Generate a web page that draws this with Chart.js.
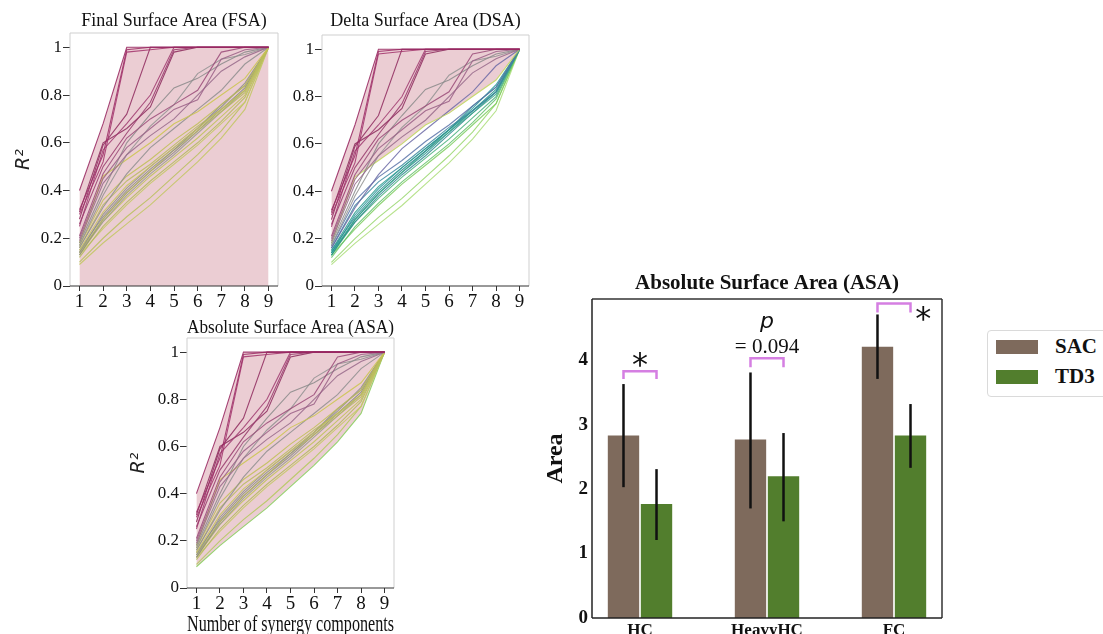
<!DOCTYPE html>
<html>
<head>
<meta charset="utf-8">
<script src="https://cdn.jsdelivr.net/npm/chart.js@4.4.1/dist/chart.umd.min.js"></script>
<style>
  body { margin: 0; width: 1103px; height: 634px; overflow: hidden; position: relative; background: #fff; }
  .pane { position: absolute; }
  #legend { position: absolute; left: 987px; top: 330px; width: 140px; height: 67px; border: 1px solid #dadada; border-radius: 4px; box-sizing: border-box; font-family: "Liberation Serif", serif; font-weight: bold; font-size: 21px; color: #111; }
  #legend .sw { position: absolute; left: 8px; width: 42px; height: 14px; }
  #legend .lb { position: absolute; left: 67px; line-height: 21px; }
</style>
</head>
<body>
<div class="pane" style="left:0;top:0"><canvas id="fsa" width="290" height="320"></canvas></div>
<div class="pane" style="left:260px;top:0"><canvas id="dsa" width="280" height="320"></canvas></div>
<div class="pane" style="left:120px;top:300px"><canvas id="asa" width="290" height="344"></canvas></div>
<div class="pane" style="left:530px;top:260px"><canvas id="bars" width="430" height="390"></canvas></div>
<div id="legend"></div>

<script>
/* ===================== DATA ===================== */
const components = [1, 2, 3, 4, 5, 6, 7, 8, 9];

// R^2 per number of synergy components, one row per run
const r2Series = [
  [0.40, 0.68, 1.00, 1.00, 1.00, 1.00, 1.00, 1.00, 1.00],
  [0.32, 0.55, 0.99, 1.00, 1.00, 1.00, 1.00, 1.00, 1.00],
  [0.30, 0.52, 0.98, 0.99, 1.00, 1.00, 1.00, 1.00, 1.00],
  [0.28, 0.59, 0.72, 1.00, 1.00, 1.00, 1.00, 1.00, 1.00],
  [0.25, 0.57, 0.68, 0.80, 1.00, 1.00, 1.00, 1.00, 1.00],
  [0.26, 0.50, 0.64, 0.77, 0.99, 1.00, 1.00, 1.00, 1.00],
  [0.31, 0.60, 0.66, 0.75, 0.98, 1.00, 1.00, 1.00, 1.00],
  [0.21, 0.47, 0.62, 0.70, 0.76, 0.82, 0.98, 1.00, 1.00],
  [0.20, 0.45, 0.58, 0.66, 0.74, 0.78, 0.95, 0.99, 1.00],
  [0.19, 0.43, 0.55, 0.63, 0.70, 0.80, 0.90, 0.96, 1.00],
  [0.18, 0.40, 0.60, 0.72, 0.83, 0.87, 0.93, 0.98, 1.00],
  [0.17, 0.38, 0.55, 0.67, 0.76, 0.89, 0.95, 0.97, 1.00],
  [0.18, 0.46, 0.53, 0.60, 0.68, 0.73, 0.80, 0.87, 1.00],
  [0.16, 0.33, 0.47, 0.58, 0.66, 0.74, 0.82, 0.93, 1.00],
  [0.17, 0.36, 0.46, 0.53, 0.61, 0.68, 0.76, 0.84, 1.00],
  [0.16, 0.34, 0.44, 0.51, 0.59, 0.67, 0.74, 0.82, 1.00],
  [0.15, 0.31, 0.42, 0.50, 0.58, 0.66, 0.74, 0.82, 1.00],
  [0.15, 0.29, 0.40, 0.49, 0.57, 0.66, 0.76, 0.84, 1.00],
  [0.14, 0.30, 0.41, 0.50, 0.58, 0.66, 0.75, 0.85, 1.00],
  [0.14, 0.28, 0.39, 0.48, 0.57, 0.65, 0.73, 0.81, 1.00],
  [0.13, 0.28, 0.39, 0.48, 0.56, 0.65, 0.74, 0.83, 1.00],
  [0.14, 0.27, 0.38, 0.47, 0.55, 0.64, 0.73, 0.82, 1.00],
  [0.13, 0.27, 0.37, 0.46, 0.54, 0.62, 0.71, 0.80, 1.00],
  [0.12, 0.25, 0.35, 0.44, 0.52, 0.60, 0.69, 0.79, 1.00],
  [0.13, 0.24, 0.34, 0.43, 0.51, 0.59, 0.68, 0.77, 1.00],
  [0.10, 0.20, 0.29, 0.37, 0.46, 0.55, 0.65, 0.77, 1.00],
  [0.09, 0.18, 0.26, 0.34, 0.43, 0.52, 0.62, 0.74, 1.00]
];
const dsaBoundaryRow = 12; // lower edge of the shaded band in DSA

const fsaColors = ["#96245f", "#9c2d66", "#a2336b", "#8f2a5e", "#a03a70", "#983a6c", "#8c2a5c", "#9a4a78", "#9a5f86",
  "#96688a", "#8a8a8a", "#929292", "#cbc64e", "#8e8e8e", "#bfc055", "#b8bb5e", "#c7c65c", "#8d9086", "#90918a",
  "#b6ba5a", "#888a84", "#9a9c90", "#c0c35a", "#b3b95d", "#c4c864", "#b9c05b", "#c2c760"];
const dsaColors = ["#96245f", "#9c2d66", "#a2336b", "#8f2a5e", "#a03a70", "#983a6c", "#8c2a5c", "#9a4a78", "#9a5f86",
  "#96688a", "#8a8a8a", "#929292", "#c0d85a", "#6c6aa6", "#5a73a8", "#3d88a0", "#2d9a8e", "#2e8c90", "#24969a",
  "#3aa488", "#20908a", "#318a92", "#47ae7c", "#63c06a", "#7dcc5e", "#97d66c", "#aadd78"];
const asaColors = ["#96245f", "#9c2d66", "#a2336b", "#8f2a5e", "#a03a70", "#983a6c", "#8c2a5c", "#9a4a78", "#9a5f86",
  "#96688a", "#8a8a8a", "#929292", "#cbc64e", "#8e8e8e", "#bfc055", "#b8bb5e", "#c7c65c", "#8d9086", "#90918a",
  "#b6ba5a", "#888a84", "#9a9c90", "#c0c35a", "#b3b95d", "#c4c864", "#b3c95a", "#86cf5a"];

const tasks = ["HC", "HeavyHC", "FC"];
const algos = ["SAC", "TD3"];
const sacArea = [2.83, 2.77, 4.21];
const td3Area = [1.77, 2.20, 2.83];
const sacLow = [2.03, 1.70, 3.71];
const sacHigh = [3.63, 3.81, 4.71];
const td3Low = [1.21, 1.50, 2.33];
const td3High = [2.31, 2.87, 3.32];
const bracketLow = [3.71, 3.89, 4.74];
const bracketHigh = [3.83, 4.03, 4.88];

/* ===================== STYLE ===================== */
const SERIF = "'Liberation Serif', 'Times New Roman', serif";
const SANS = "'DejaVu Sans', sans-serif";
const PINK = "rgba(190, 90, 110, 0.3)";
const algoColors = ["#7e6a5c", "#527e2d"];
Chart.defaults.animation = false;
Chart.defaults.color = "#111";

/* ===================== PLUGINS ===================== */
const framePlugin = {
  id: "frame",
  afterDatasetsDraw(chart, args, o) {
    const { left, right, top, bottom } = chart.chartArea;
    const ctx = chart.ctx;
    const side = (c, x1, y1, x2, y2) => {
      ctx.strokeStyle = c;
      ctx.beginPath(); ctx.moveTo(x1, y1); ctx.lineTo(x2, y2); ctx.stroke();
    };
    ctx.save();
    ctx.lineWidth = o.width || 1;
    side(o.top, left, top, right, top);
    side(o.right, right, top, right, bottom);
    side(o.left, left, top, left, bottom);
    side(o.bottom, left, bottom, right, bottom);
    ctx.restore();
  }
};

const envelope = fn => components.map((c, i) => ({ x: c, y: fn(...r2Series.map(s => s[i])) }));

function lineChart(id, p) {
  const lines = r2Series.map((s, k) => ({
    data: components.map((c, i) => ({ x: c, y: s[i] })),
    borderColor: p.colors[k] + "d9",
    borderWidth: 1.1,
    pointRadius: 0,
    fill: false,
    order: 1
  }));
  const upper = { data: envelope(Math.max), borderWidth: 0, borderColor: "rgba(0,0,0,0)", pointRadius: 0, backgroundColor: PINK, fill: p.fill, order: 5 };
  const datasets = [upper];
  if (p.lower) datasets.push({ data: envelope(Math.min), borderWidth: 0, borderColor: "rgba(0,0,0,0)", pointRadius: 0, fill: false, order: 6 });
  datasets.push(...lines);

  new Chart(document.getElementById(id), {
    type: "line",
    data: { datasets },
    plugins: [framePlugin],
    options: {
      responsive: false,
      devicePixelRatio: 1,
      layout: { padding: { right: p.padRight } },
      plugins: {
        legend: { display: false },
        tooltip: { enabled: false },
        title: { display: true, fullSize: false, text: p.title, color: "#111", font: { family: SERIF, size: 18, weight: "normal", lineHeight: 1 }, padding: p.titlePad },
        frame: { top: "#cfcfcf", right: "#cfcfcf", left: "#cfcfcf", bottom: "#333" }
      },
      scales: {
        x: {
          type: "linear", min: 0.6, max: 9.4,
          afterFit: s => { s.height = p.xH; },
          ticks: { stepSize: 1, includeBounds: false, autoSkip: false, maxRotation: 0, padding: 0, font: { family: SERIF, size: 19 }, color: "#111" },
          grid: { drawOnChartArea: false, drawTicks: true, tickLength: 5, tickColor: "#333" },
          border: { display: false },
          title: p.xTitle ? { display: true, text: p.xTitle, color: "#111", font: { family: SERIF, size: 22.5, lineHeight: 1 }, padding: { bottom: p.xTitlePad } } : { display: false }
        },
        y: {
          min: 0, max: 1.06,
          afterFit: s => { s.width = p.yW; },
          ticks: { stepSize: 0.2, includeBounds: false, padding: 1, font: { family: SERIF, size: 17 }, color: "#111", callback: v => String(+v.toFixed(1)) },
          grid: { drawOnChartArea: false, drawTicks: true, tickLength: 7, tickColor: "#333" },
          border: { display: false },
          title: p.yTitle ? { display: true, text: "R²", color: "#222", font: { family: SANS, size: 19, style: "italic", lineHeight: 1 }, padding: { top: p.yTitlePad } } : { display: false }
        }
      }
    }
  });
}

/* ===================== LINE PANELS ===================== */
lineChart("fsa", { title: "Final Surface Area (FSA)", colors: fsaColors, fill: "origin", padRight: 12, xH: 34, yW: 70, titlePad: { top: 12, bottom: 3 }, yTitle: true, yTitlePad: 15 });
lineChart("dsa", { title: "Delta Surface Area (DSA)", colors: dsaColors, fill: 1 + dsaBoundaryRow, padRight: 11, xH: 34, yW: 62, titlePad: { top: 12, bottom: 5 } });
lineChart("asa", { title: "Absolute Surface Area (ASA)", colors: asaColors, fill: 1, lower: true, padRight: 16, xH: 56, yW: 67, titlePad: { top: 19, bottom: 1 },
  yTitle: true, yTitlePad: 10, xTitle: "Number of synergy components", xTitlePad: 8 });

/* ===================== BAR PANEL ===================== */
const barNotes = {
  id: "barNotes",
  afterDatasetsDraw(chart) {
    const { ctx, scales: { x, y } } = chart;
    const sac = chart.getDatasetMeta(0).data, td3 = chart.getDatasetMeta(1).data;
    ctx.save();
    // error bars
    ctx.strokeStyle = "#111";
    ctx.lineWidth = 2.5;
    [[sac, sacLow, sacHigh], [td3, td3Low, td3High]].forEach(([bars, lo, hi]) => {
      bars.forEach((b, i) => {
        ctx.beginPath();
        ctx.moveTo(b.x, y.getPixelForValue(lo[i]));
        ctx.lineTo(b.x, y.getPixelForValue(hi[i]));
        ctx.stroke();
      });
    });
    // significance brackets
    ctx.strokeStyle = "#d57fe2";
    ctx.lineWidth = 2.5;
    tasks.forEach((t, i) => {
      const yl = y.getPixelForValue(bracketLow[i]), yh = y.getPixelForValue(bracketHigh[i]);
      ctx.beginPath();
      ctx.moveTo(sac[i].x, yl); ctx.lineTo(sac[i].x, yh); ctx.lineTo(td3[i].x, yh); ctx.lineTo(td3[i].x, yl);
      ctx.stroke();
    });
    // labels
    ctx.fillStyle = "#111";
    ctx.textAlign = "center";
    ctx.textBaseline = "middle";
    ctx.font = "32px " + SANS;
    ctx.fillText("*", x.getPixelForValue(0), y.getPixelForValue(4.03) + 8);
    ctx.fillText("*", x.getPixelForValue(2.23), y.getPixelForValue(4.74) + 8);
    ctx.font = "italic 22px " + SANS;
    ctx.fillText("p", x.getPixelForValue(1), y.getPixelForValue(4.59));
    ctx.font = "21px " + SERIF;
    ctx.fillText("= 0.094", x.getPixelForValue(1), y.getPixelForValue(4.2));
    ctx.restore();
  }
};

new Chart(document.getElementById("bars"), {
  type: "bar",
  data: {
    datasets: [sacArea, td3Area].map((vals, d) => ({
      label: algos[d],
      data: tasks.map((t, i) => ({ x: i, y: vals[i] })),
      backgroundColor: algoColors[d],
      barPercentage: 0.95,
      categoryPercentage: 0.52
    }))
  },
  plugins: [framePlugin, barNotes],
  options: {
    responsive: false,
    devicePixelRatio: 1,
    layout: { padding: { right: 18 } },
    plugins: {
      legend: { display: false },
      tooltip: { enabled: false },
      title: { display: true, fullSize: false, text: "Absolute Surface Area (ASA)", color: "#111", font: { family: SERIF, size: 21, weight: "bold", lineHeight: 1 }, padding: { top: 13, bottom: 5 } },
      frame: { top: "#333", right: "#333", left: "#222", bottom: "#222", width: 1.5 }
    },
    scales: {
      x: {
        type: "linear", min: -0.378, max: 2.378, offset: false,
        afterFit: s => { s.height = 32; },
        ticks: { stepSize: 1, includeBounds: false, autoSkip: false, maxRotation: 0, padding: 2, font: { family: SERIF, size: 17, weight: "bold" }, color: "#111",
          callback: v => tasks[Math.round(v)] ?? "" },
        grid: { display: false, drawTicks: false, offset: false },
        border: { display: false }
      },
      y: {
        min: 0, max: 4.95,
        afterFit: s => { s.width = 62; },
        ticks: { stepSize: 1, includeBounds: false, padding: 4, font: { family: SERIF, size: 19, weight: "bold" }, color: "#111" },
        grid: { display: false, drawTicks: false },
        border: { display: false },
        title: { display: true, text: "Area", color: "#111", font: { family: SERIF, size: 24, weight: "bold", lineHeight: 1 }, padding: { top: 14 } }
      }
    }
  }
});

/* ===================== LEGEND ===================== */
const legend = document.getElementById("legend");
algos.forEach((a, d) => {
  const top = 9 + d * 30;
  legend.insertAdjacentHTML("beforeend",
    `<div class="sw" style="top:${top}px;background:${algoColors[d]}"></div><div class="lb" style="top:${top - 4}px">${a}</div>`);
});
</script>
</body>
</html>
